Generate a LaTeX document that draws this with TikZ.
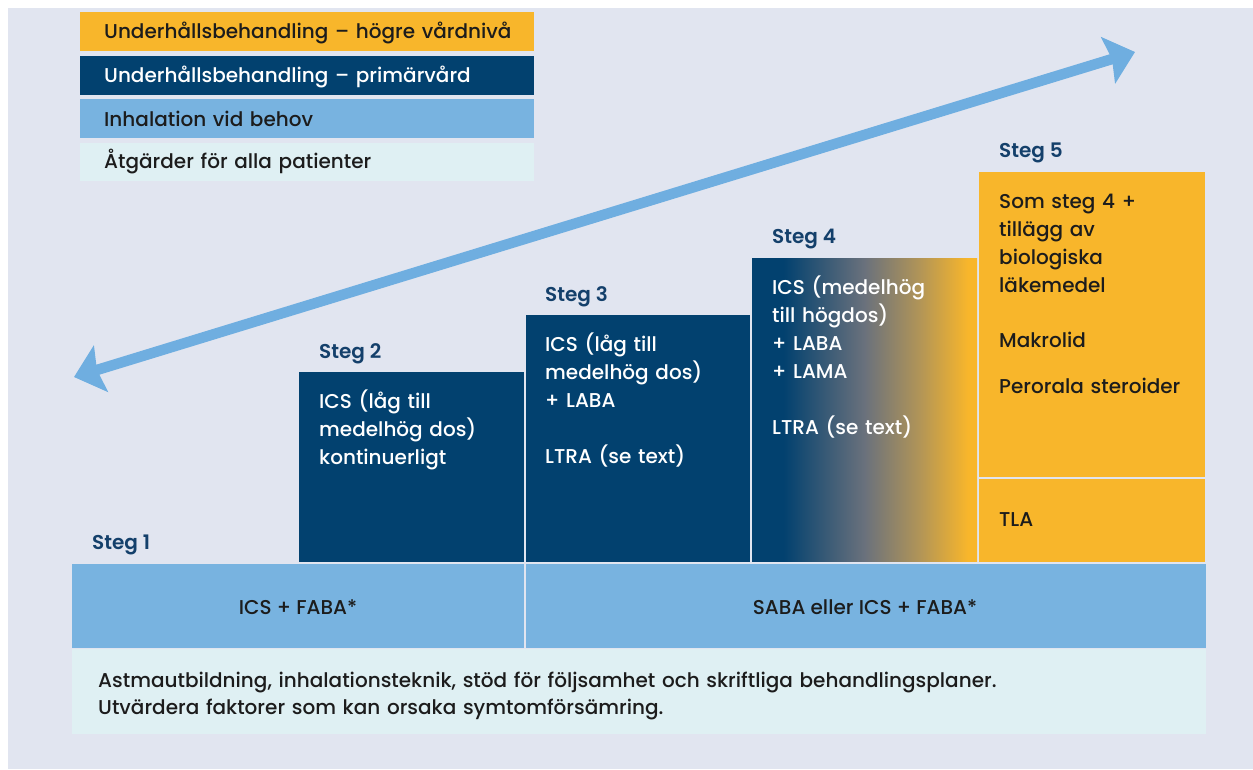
\documentclass[tikz,border=0pt]{standalone}
\usepackage{fontspec}
\setmainfont{Poppins}[UprightFont=* Medium, BoldFont=* SemiBold]
\usetikzlibrary{arrows.meta}
\definecolor{bgc}{HTML}{E1E5F0}
\definecolor{navyc}{HTML}{02416F}
\definecolor{orangec}{HTML}{F8B62B}
\definecolor{lbluec}{HTML}{78B3E0}
\definecolor{palec}{HTML}{DFF0F3}
\definecolor{stegc}{HTML}{14406B}
\definecolor{arrowc}{HTML}{6FAEE0}
\definecolor{darkc}{HTML}{1C1C1C}
\definecolor{midgrey}{HTML}{6A717C}
\definecolor{tanc}{HTML}{B09458}
\pgfdeclarehorizontalshading{stepfour}{100bp}{color(0bp)=(navyc); color(25bp)=(navyc); color(32bp)=(navyc); color(50bp)=(midgrey); color(62bp)=(tanc); color(73bp)=(orangec); color(100bp)=(orangec)}
\newcommand{\bodyfont}{\fontsize{20}{28}\selectfont}
\begin{document}
\begin{tikzpicture}[x=1pt,y=-1pt,
  box/.style={anchor=north west, inner sep=0pt, outer sep=0pt, draw=none},
  txt/.style={anchor=base west, inner sep=0pt, align=left, text width=#1, font=\bodyfont},
  txt/.default=220pt,
  steglbl/.style={anchor=base west, inner sep=0pt, font=\bodyfont\bfseries, text=stegc},
  ctxt/.style={anchor=base, inner sep=0pt, font=\bodyfont, text=darkc}
]
\useasboundingbox (0,0) rectangle (1253,769);
\fill[white] (0,0) rectangle (1253,769);
\fill[bgc] (8,8) rectangle (1253,769);

% legend
\node[box, fill=orangec, minimum width=454pt, minimum height=39pt] (l1) at (80,12) {};
\node[box, fill=navyc, minimum width=454pt, minimum height=39pt] (l2) at (80,55.5) {};
\node[box, fill=lbluec, minimum width=454pt, minimum height=39pt] (l3) at (80,99) {};
\node[box, fill=palec, minimum width=454pt, minimum height=38pt] (l4) at (80,143) {};
\node[txt=430pt, text=darkc] (lt1) at (104,38) {Underhållsbehandling – högre vårdnivå};
\node[txt=430pt, text=white] (lt2) at (104,82) {Underhållsbehandling – primärvård};
\node[txt=430pt, text=darkc] (lt3) at (104,126) {Inhalation vid behov};
\node[txt=430pt, text=darkc] (lt4) at (104,168) {Åtgärder för alla patienter};

% arrow
\coordinate (al) at (74,377);
\coordinate (ar) at (1135,52);
\draw[arrowc, line width=10.5pt, {Stealth[length=28pt,width=48pt,inset=4pt]}-{Stealth[length=28pt,width=48pt,inset=4pt]}] (al) -- (ar);

% step boxes
\node[box, fill=navyc, minimum width=225pt, minimum height=189.5pt] (s2) at (299,372) {};
\node[box, fill=navyc, minimum width=224pt, minimum height=246.5pt] (s3) at (526,315) {};
\node[box, shading=stepfour, minimum width=225pt, minimum height=303.5pt] (s4) at (752,258) {};
\node[box, fill=orangec, minimum width=226pt, minimum height=305pt] (s5a) at (979,172) {};
\node[box, fill=orangec, minimum width=226pt, minimum height=82.5pt] (s5b) at (979,479) {};

% bottom rows
\node[box, fill=lbluec, minimum width=452pt, minimum height=84.5pt] (b1) at (72,563.5) {};
\node[box, fill=lbluec, minimum width=680pt, minimum height=84.5pt] (b2) at (526,563.5) {};
\node[box, fill=palec, minimum width=1134pt, minimum height=85pt] (b3) at (72,649) {};

% step labels
\node[steglbl] (g1) at (92,549) {Steg 1};
\node[steglbl] (g2) at (319,358) {Steg 2};
\node[steglbl] (g3) at (545,301) {Steg 3};
\node[steglbl] (g4) at (772,243) {Steg 4};
\node[steglbl] (g5) at (999,157) {Steg 5};

% step texts
\node[txt, text=white] (t2) at (319,408) {ICS (låg till\\medelhög dos)\\kontinuerligt};
\node[txt, text=white] (t3) at (545,351) {ICS (låg till\\medelhög dos)\\+ LABA\\[28pt]LTRA (se text)};
\node[txt, text=white] (t4) at (772,294) {ICS (medelhög\\till högdos)\\+ LABA\\+ LAMA\\[28pt]LTRA (se text)};
\node[txt, text=darkc] (t5) at (999,208) {Som steg 4 +\\tillägg av\\biologiska\\läkemedel\\[27pt]Makrolid\\[18pt]Perorala steroider};
\node[txt, text=darkc] (t6) at (999,526) {TLA};

% bottom texts
\node[ctxt] (c1) at (298,614) {ICS + FABA*};
\node[ctxt] (c2) at (865,614) {SABA eller ICS + FABA*};
\node[txt=1100pt, text=darkc, font=\fontsize{20}{27}\selectfont] (c3) at (98,687) {Astmautbildning, inhalationsteknik, stöd för följsamhet och skriftliga behandlingsplaner.\\Utvärdera faktorer som kan orsaka symtomförsämring.};
\end{tikzpicture}
\end{document}
